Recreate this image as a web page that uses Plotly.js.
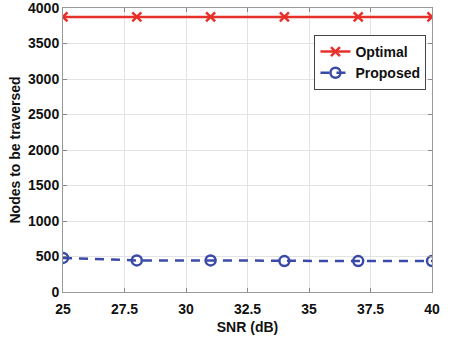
<!DOCTYPE html>
<html><head><meta charset="utf-8">
<script src="https://cdn.plot.ly/plotly-3.0.1.min.js"></script>
<style>html,body{margin:0;padding:0;background:#fff}</style>
</head><body><div id="c" style="width:457px;height:340px"></div>
<script>
const snr = [25, 28, 31, 34, 37, 40];
const optimal = [3875, 3875, 3875, 3875, 3875, 3875];
const proposed = [480, 445, 445, 435, 435, 435];
const xTicks = [25, 27.5, 30, 32.5, 35, 37.5, 40];
const xTickText = ['25', '27.5', '30', '32.5', '35', '37.5', '40'];
const yTicks = [0, 500, 1000, 1500, 2000, 2500, 3000, 3500, 4000];

const font = {family: 'Liberation Sans, Arial, sans-serif', size: 14, color: '#111'};
const data = [
  {x: snr, y: optimal, name: '<b>Optimal</b>', mode: 'lines+markers',
   line: {color: '#e8302a', width: 2.5},
   marker: {symbol: 'x-thin-open', size: 9, color: '#e8302a', line: {width: 2.5, color: '#e8302a'}}},
  {x: snr, y: proposed, name: '<b>Proposed</b>', mode: 'lines+markers',
   line: {color: '#3a4aa8', width: 2.5, dash: '9px,7px'},
   marker: {symbol: 'circle-open', size: 10, color: '#3a4aa8', line: {width: 2.5, color: '#3a4aa8'}}}
];
const layout = {
  width: 457, height: 340,
  margin: {l: 63, r: 25, t: 8, b: 48},
  paper_bgcolor: '#fff', plot_bgcolor: '#fff',
  font: font,
  showlegend: true,
  legend: {x: 0.985, y: 0.905, xanchor: 'right', yanchor: 'top',
           bordercolor: '#444', borderwidth: 1, bgcolor: '#fff',
           font: {family: font.family, size: 14, color: '#111'}, tracegroupgap: 0},
  xaxis: {range: [25, 40], tickvals: xTicks, ticktext: xTickText.map(t => '<b>' + t + '</b>'),
          showgrid: true, gridcolor: '#e3e3e3', showline: true, linecolor: '#999', linewidth: 1,
          mirror: 'ticks', ticks: 'inside', ticklen: 4, tickcolor: '#888', zeroline: false,
          ticklabelstandoff: 4,
          title: {text: '<b>SNR (dB)</b>', font: {size: 14}, standoff: 6},
          tickfont: {size: 14}},
  yaxis: {range: [0, 4000], tickvals: yTicks, ticktext: yTicks.map(t => '<b>' + t + '</b>'),
          showgrid: true, gridcolor: '#e3e3e3', showline: true, linecolor: '#999', linewidth: 1,
          mirror: 'ticks', ticks: 'inside', ticklen: 4, tickcolor: '#888', zeroline: false,
          ticklabeloverflow: 'allow',
          title: {text: '<b>Nodes to be traversed</b>', font: {size: 14}, standoff: 4},
          tickfont: {size: 14}}
};
Plotly.newPlot('c', data, layout, {displayModeBar: false, staticPlot: true});
</script></body></html>
